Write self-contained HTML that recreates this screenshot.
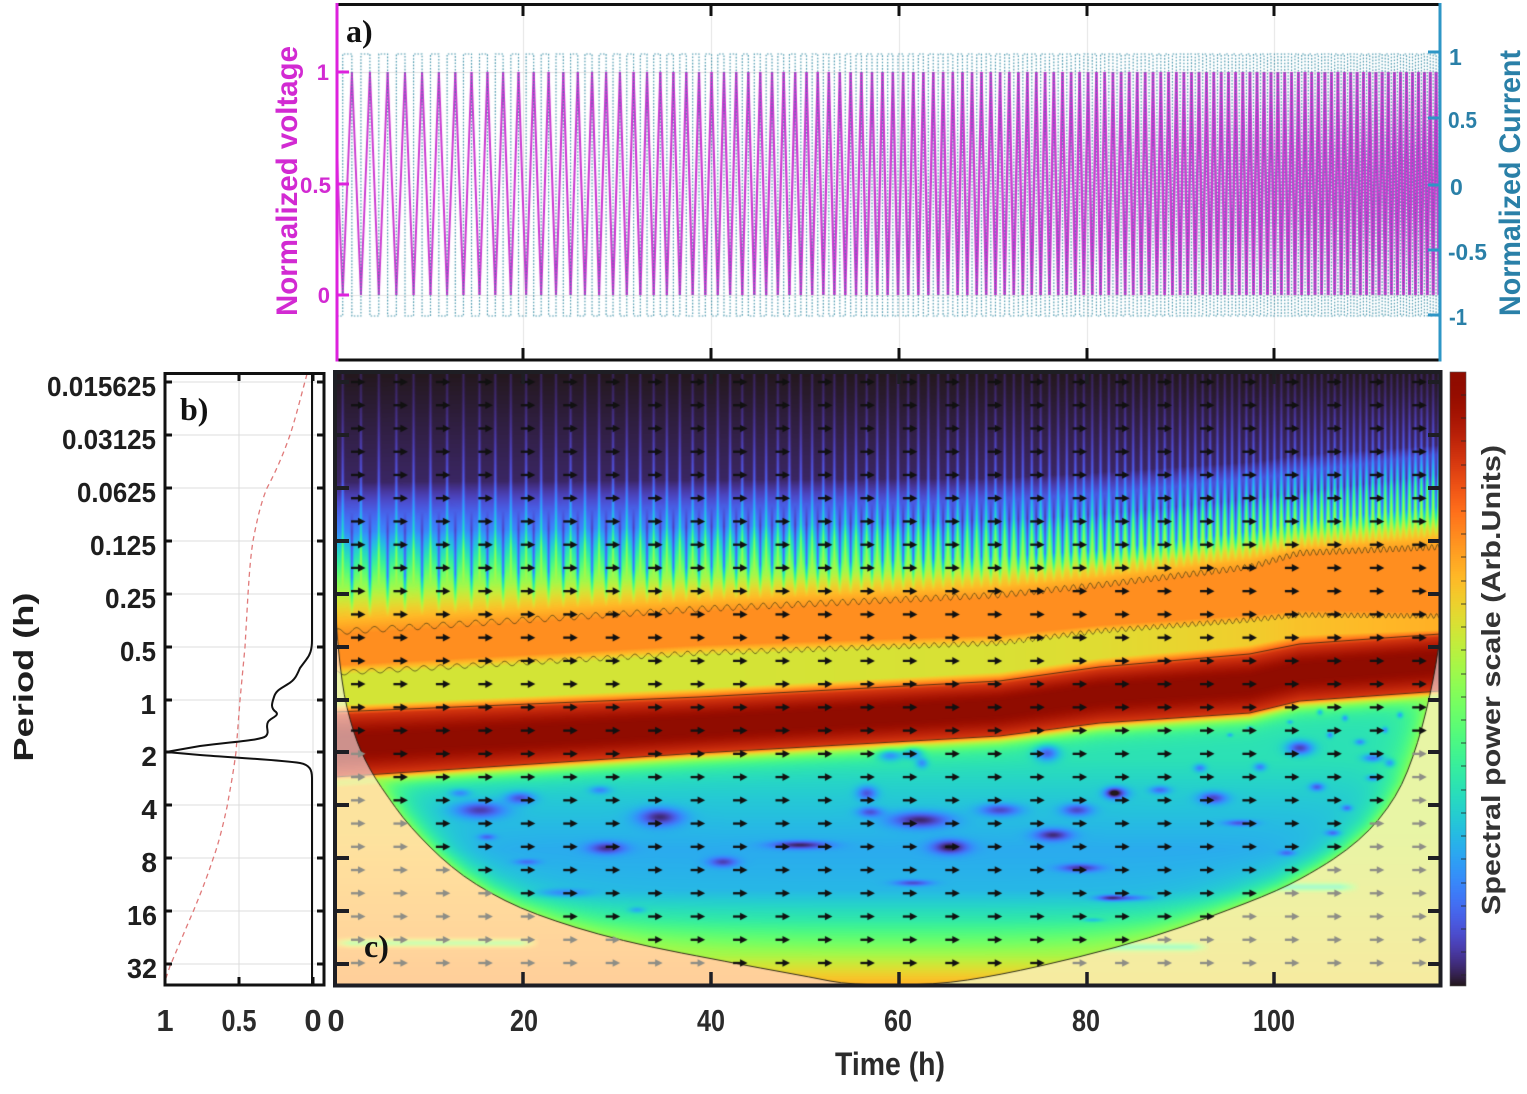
<!DOCTYPE html>
<html><head><meta charset="utf-8">
<style>
html,body{margin:0;padding:0;background:#fff;}
#wrap{position:relative;width:1527px;height:1094px;overflow:hidden;background:#fff;}
canvas{position:absolute;}
svg{position:absolute;left:0;top:0;}
text{font-family:"Liberation Sans",Arial,sans-serif;font-weight:bold;}
text.serif{font-family:"Liberation Serif","Times New Roman",serif;font-weight:bold;}
</style></head><body>
<div id="wrap">
<canvas id="ca" width="1103" height="355" style="left:337px;top:5px"></canvas>
<canvas id="cc" width="1106" height="616" style="left:335px;top:371px"></canvas>
<canvas id="cb" width="16" height="614" style="left:1450px;top:372px"></canvas>
<svg width="1527" height="1094" viewBox="0 0 1527 1094">
<!-- ===== Panel a ===== -->
<g stroke="#111" stroke-width="3" fill="none">
<line x1="336" y1="4.5" x2="1441" y2="4.5"/>
<line x1="336" y1="360" x2="1441" y2="360"/>
<path d="M523,4V16M711,4V16M899,4V16M1087,4V16M1274,4V16"/>
<path d="M523,360V348M711,360V348M899,360V348M1087,360V348M1274,360V348"/>
</g>
<line x1="337" y1="3" x2="337" y2="361.5" stroke="#dd22dd" stroke-width="3"/>
<path d="M337,72H349M337,184H349M337,295H349" stroke="#dd22dd" stroke-width="3"/>
<line x1="1440" y1="3" x2="1440" y2="361.5" stroke="#2e96c6" stroke-width="3"/>
<path d="M1440,52H1428M1440,118H1428M1440,185H1428M1440,250H1428M1440,315H1428" stroke="#2e96c6" stroke-width="3"/>
<g fill="#d22ad2" font-size="22" text-anchor="end">
<text x="329" y="80">1</text>
<text x="331" y="193" textLength="31" lengthAdjust="spacingAndGlyphs">0.5</text>
<text x="330" y="303">0</text>
</g>
<text transform="translate(297,181) rotate(-90)" text-anchor="middle" font-size="30" fill="#d22ad2" textLength="270" lengthAdjust="spacingAndGlyphs">Normalized voltage</text>
<g fill="#2a80a8" font-size="23">
<text x="1449" y="65">1</text>
<text x="1448" y="128" textLength="29" lengthAdjust="spacingAndGlyphs">0.5</text>
<text x="1450" y="195">0</text>
<text x="1448" y="260" textLength="39" lengthAdjust="spacingAndGlyphs">-0.5</text>
<text x="1449" y="325" textLength="18" lengthAdjust="spacingAndGlyphs">-1</text>
</g>
<text transform="translate(1520,183) rotate(-90)" text-anchor="middle" font-size="30" fill="#2a80a8" textLength="266" lengthAdjust="spacingAndGlyphs">Normalized Current</text>
<text class="serif" x="346" y="42" font-size="32" fill="#111">a)</text>

<!-- ===== Panel b ===== -->
<g stroke="#dcdcdc" stroke-width="1">
<path d="M166,382H323M166,435H323M166,488H323M166,541H323M166,594H323M166,647H323M166,700H323M166,752H323M166,805H323M166,858H323M166,911H323M166,964H323"/>
<path d="M239,374V985M313,374V985"/>
</g>
<path d="M307,374 C300,400 295,420 290,435 C282,458 274,475 267,488 C260,505 256,525 253,541 C250,560 249,580 248,594 L245,647 L240,700 L236,752 C233,775 230,790 227,807 C222,830 218,845 213,859 C206,880 200,895 193,912 C185,930 177,950 170,966 L165,981" fill="none" stroke="#e07a7a" stroke-width="1.3" stroke-dasharray="5,4"/>
<path d="M312,374 L312,640 C312,650 310,655 306,660 L300,668 C297,675 295,680 288,684 C282,688 276,690 274,697 C272,703 270,708 276,712 C280,716 270,718 268,722 C265,727 270,732 266,736 C262,740 240,741 200,746 L166,752 L200,755 C240,758 280,760 300,763 C310,765 312,770 312,778 L312,985" fill="none" stroke="#111" stroke-width="2"/>
<rect x="165" y="373.5" width="159" height="611.5" fill="none" stroke="#111" stroke-width="3"/>
<g stroke="#111" stroke-width="3">
<path d="M323,382h-6M323,435h-6M323,488h-6M323,541h-6M323,594h-6M323,647h-6M323,700h-6M323,752h-6M323,805h-6M323,858h-6M323,911h-6M323,964h-6"/>
<path d="M166,382h6M166,435h6M166,488h6M166,541h6M166,594h6M166,647h6M166,700h6M166,752h6M166,805h6M166,858h6M166,911h6M166,964h6"/>
<path d="M239,374v7M313,374v7M239,985v-8M313,985v-8"/>
</g>
<text class="serif" x="180" y="420" font-size="32" fill="#111">b)</text>
<g fill="#1e1e1e" font-size="28" text-anchor="end">
<text x="156" y="396" textLength="109" lengthAdjust="spacingAndGlyphs">0.015625</text>
<text x="156" y="449" textLength="94" lengthAdjust="spacingAndGlyphs">0.03125</text>
<text x="156" y="502" textLength="79" lengthAdjust="spacingAndGlyphs">0.0625</text>
<text x="156" y="555" textLength="66" lengthAdjust="spacingAndGlyphs">0.125</text>
<text x="156" y="608" textLength="51" lengthAdjust="spacingAndGlyphs">0.25</text>
<text x="156" y="661" textLength="36" lengthAdjust="spacingAndGlyphs">0.5</text>
<text x="156" y="714">1</text>
<text x="157" y="766">2</text>
<text x="157" y="819">4</text>
<text x="157" y="872">8</text>
<text x="157" y="925" textLength="30" lengthAdjust="spacingAndGlyphs">16</text>
<text x="157" y="978" textLength="30" lengthAdjust="spacingAndGlyphs">32</text>
</g>
<text transform="translate(33,677) rotate(-90)" text-anchor="middle" font-size="28" fill="#1e1e1e" textLength="169" lengthAdjust="spacingAndGlyphs">Period (h)</text>

<!-- ===== Panel c ===== -->
<rect x="335" y="372" width="1105.5" height="613.5" fill="none" stroke="#1e1e24" stroke-width="4"/>
<g stroke="#1e1e24" stroke-width="4">
<path d="M335,382H349M335,435H349M335,488H349M335,541H349M335,594H349M335,647H349M335,700H349M335,752H349M335,805H349M335,858H349M335,911H349M335,964H349"/>
<path d="M1441,382H1428M1441,435H1428M1441,488H1428M1441,541H1428M1441,594H1428M1441,647H1428M1441,700H1428M1441,752H1428M1441,805H1428M1441,858H1428M1441,911H1428M1441,964H1428"/>
</g>
<g stroke="#1e1e24" stroke-width="3.5">
<path d="M523,985V972M711,985V972M899,985V972M1087,985V972M1274,985V972"/>
<path d="M523,372V384M711,372V384M899,372V384M1087,372V384M1274,372V384"/>
</g>
<text class="serif" x="364" y="957" font-size="32" fill="#111">c)</text>
<g fill="#2b2b2b" font-size="31" text-anchor="middle">
<text x="165" y="1031">1</text>
<text x="239" y="1031" textLength="35" lengthAdjust="spacingAndGlyphs">0.5</text>
<text x="313" y="1031">0</text>
<text x="336" y="1031">0</text>
<text x="524" y="1031" textLength="28" lengthAdjust="spacingAndGlyphs">20</text>
<text x="711" y="1031" textLength="28" lengthAdjust="spacingAndGlyphs">40</text>
<text x="898" y="1031" textLength="28" lengthAdjust="spacingAndGlyphs">60</text>
<text x="1086" y="1031" textLength="28" lengthAdjust="spacingAndGlyphs">80</text>
<text x="1274" y="1031" textLength="42" lengthAdjust="spacingAndGlyphs">100</text>
</g>
<text x="890" y="1075" text-anchor="middle" font-size="32" fill="#2b2b2b" textLength="110" lengthAdjust="spacingAndGlyphs">Time (h)</text>

<!-- ===== Colorbar ===== -->
<rect x="1450" y="372" width="16" height="614" fill="none" stroke="#555" stroke-width="0.6"/>
<g stroke="rgba(40,40,40,0.55)" stroke-width="1.5">
<path d="M1466,395h-5M1466,418h-5M1466,441h-5M1466,465h-5M1466,488h-5M1466,511h-5M1466,534h-5M1466,557h-5M1466,581h-5M1466,604h-5M1466,627h-5M1466,650h-5M1466,674h-5M1466,697h-5M1466,720h-5M1466,743h-5M1466,766h-5M1466,790h-5M1466,813h-5M1466,836h-5M1466,859h-5M1466,883h-5M1466,906h-5M1466,929h-5M1466,952h-5M1466,975h-5"/>
</g>
<text transform="translate(1500,680) rotate(-90)" text-anchor="middle" font-size="26" fill="#333" textLength="470" lengthAdjust="spacingAndGlyphs">Spectral power scale (Arb.Units)</text>
</svg>
</div>
<script>
(function(){
function cl(v){return v<0?0:(v>1?1:v);}
function frac(v){return v-Math.floor(v);}
function ip(xs,ys,x){var n=xs.length;if(x<=xs[0])return ys[0];if(x>=xs[n-1])return ys[n-1];
 for(var i=1;i<n;i++){if(x<=xs[i]){var d=xs[i]-xs[i-1];var t=d>0?(x-xs[i-1])/d:1;return ys[i-1]+t*(ys[i]-ys[i-1]);}}return ys[n-1];}
function turbo(t){t=cl(t);
 var r=0.13572138+t*(4.61539260+t*(-42.66032258+t*(132.13108234+t*(-152.94239396+t*59.28637943))));
 var g=0.09140261+t*(2.19418839+t*(4.84296658+t*(-14.18503333+t*(4.27729857+t*2.82956604))));
 var b=0.10667330+t*(12.64194608+t*(-60.58204836+t*(110.36276771+t*(-89.90310912+t*27.34824973))));
 return [Math.round(cl(r)*255),Math.round(cl(g)*255),Math.round(cl(b)*255)];}
var P0=18.5,P1=5.8,XA=337,XB=1441,OFF=0.69;
var kk=Math.log(P0/P1)/(XB-XA);
function per(x){return P0*Math.exp(-kk*(x-XA));}
function phi(x){return (Math.exp(kk*(x-XA))-1)/(kk*P0);}

/* ---------- Panel a ---------- */
var A=document.getElementById('ca').getContext('2d');
var ax=337,ay=5;
A.strokeStyle='#e3e3e3';A.lineWidth=1;
[523,711,899,1087,1274].forEach(function(x){A.beginPath();A.moveTo(x-ax+0.5,0);A.lineTo(x-ax+0.5,355);A.stroke();});
[72,295].forEach(function(y){A.beginPath();A.moveTo(0,y-ay+0.5);A.lineTo(1103,y-ay+0.5);A.stroke();});
var psiEnd=phi(XB)+OFF, tp=[];
for(var n=Math.ceil(OFF*2);n/2<=psiEnd;n++){var ps=n/2;var x=XA+Math.log(1+kk*P0*(ps-OFF))/kk;tp.push([x,n%2===0?0:1]);}
function vy(v){return 295-v*223-ay;}
function cyy(c){return 185-c*131-ay;}
A.strokeStyle='rgba(200,45,205,0.95)';
var px=0,py=vy(1-Math.abs(2*frac(OFF)-1));
tp.forEach(function(q){var nx=q[0]-ax,ny=vy(q[1]);A.lineWidth=1.9+0.8*(nx/1103);A.beginPath();A.moveTo(px,py);A.lineTo(nx,ny);A.stroke();px=nx;py=ny;});
var ve=1-Math.abs(2*frac(psiEnd)-1);A.beginPath();A.moveTo(px,py);A.lineTo(XB-ax,vy(ve));A.stroke();
A.setLineDash([1.6,1.6]);A.strokeStyle='rgba(45,135,160,0.85)';A.lineWidth=1.2;
A.beginPath();var cur=-1;A.moveTo(0,cyy(cur));
tp.forEach(function(q){A.lineTo(q[0]-ax,cyy(cur));cur=(q[1]===0)?1:-1;A.lineTo(q[0]-ax,cyy(cur));});
A.lineTo(XB-ax,cyy(cur));A.stroke();
A.setLineDash([]);

/* ---------- Panel c ---------- */
var W=1106,H=616,X0=335,Y0=371;
var C=document.getElementById('cc').getContext('2d');
var img=C.createImageData(W,H),Dd=img.data;
var LUT=[];for(var q=0;q<=1000;q++)LUT.push(turbo(q/1000));
var KX=[335,700,1000,1100,1250,1300,1441];
var KA=[482,480,478,472,462,455,445],KB=[532,527,520,514,499,492,474],KC=[578,567,556,550,531,521,506],
KD=[610,592,578,568,550,540,528],KEe=[635,612,598,588,570,556,550],KF=[665,645,635,625,615,610,612],
KF2=[675,655,645,633,622,617,618],
KGg=[705,688,672,658,645,635,630],KHh=[715,700,684,670,657,647,637],KI=[745,726,708,694,684,672,662],
KJj=[776,752,735,722,712,700,690],GV=[0.58,0.58,0.59,0.6,0.63,0.65,0.68];
var VBY=[760,800,850,890,920,945,962,975,990],VBV=[0.32,0.27,0.22,0.24,0.34,0.46,0.56,0.63,0.7];
var CX=[335,337,340,344,350,357,365,375,388,403,420,440,463,490,520,555,597,650,713,760,810,850,935,1000,1080,1150,1210,1280,1320,1347,1370,1388,1402,1413,1422,1430,1436,1441];
var CY=[600,635,665,695,720,742,760,778,797,818,837,857,876,893,908,921,934,947,959,968,977,985,985,975,957,938,917,890,868,850,830,808,785,757,728,695,665,630];
var BL=[[480,810,25,8,.2],[520,798,14,6,.18],[460,793,10,4,.12],[487,837,8,3,.12],[660,817,22,9,.22],[607,848,18,6,.18],[723,862,14,5,.16],[527,862,12,3,.1],[563,893,25,4,.1],[637,910,8,3,.1],[600,790,10,4,.12],
[800,845,28,4,.2],[867,793,10,7,.18],[890,755,12,6,.2],[913,753,10,6,.2],[922,763,6,5,.15],[870,812,12,5,.16],[920,820,30,8,.22],[950,847,18,7,.22],[1000,810,20,6,.18],[1047,753,12,8,.22],[1053,835,18,6,.2],[1077,810,15,6,.18],[1080,868,20,4,.18],[913,883,18,3,.15],[1113,793,8,5,.15],[1110,898,12,3,.12],[1093,920,10,2,.1],
[1300,748,13,7,.25],[1260,767,6,4,.15],[1200,768,6,4,.15],[1160,790,10,4,.15],[1117,793,12,6,.18],[1213,798,14,6,.2],[1240,823,15,3,.15],[1317,787,7,4,.18],[1373,758,10,4,.18],[1390,763,5,4,.15],[1373,778,6,3,.15],[1347,808,5,3,.15],[1333,833,7,3,.15],[1287,853,8,3,.12],[1123,898,25,3,.15],[1360,742,5,3,.15],
[1320,712,3,3,.15],[1345,718,3,3,.15],[1400,715,3,3,.15],[1330,735,3,3,.15],[1385,730,3,3,.15],[1250,728,3,2,.12],[1230,735,3,2,.12],[1290,722,3,2,.12]];
var STR=[[350,520,943],[1270,1340,887],[1100,1190,947]];
function distC(X,Y){var best=1e9;for(var s=0;s<CX.length-1;s++){var x1=CX[s],y1=CY[s],x2=CX[s+1],y2=CY[s+1];
 var dx=x2-x1,dy=y2-y1,L=dx*dx+dy*dy,t=L>0?((X-x1)*dx+(Y-y1)*dy)/L:0;t=t<0?0:(t>1?1:t);
 var ex=x1+t*dx-X,ey=y1+t*dy-Y,d=ex*ex+ey*ey;if(d<best)best=d;}return Math.sqrt(best);}
var KE=new Float32Array(W),KFF=new Float32Array(W),KH=new Float32Array(W),KJ=new Float32Array(W);
for(var i=0;i<W;i++){
 var X=X0+i+0.5;
 var a=ip(KX,KA,X),b=ip(KX,KB,X),c=ip(KX,KC,X),d=ip(KX,KD,X),e=ip(KX,KEe,X),f=ip(KX,KF,X),f2=ip(KX,KF2,X),g=ip(KX,KGg,X),h=ip(KX,KHh,X),m=ip(KX,KI,X),j=ip(KX,KJj,X),gv=ip(KX,GV,X);
 KE[i]=e;KFF[i]=f2;KH[i]=h;KJ[i]=j;
 var yc=ip(CX,CY,X);
 var p=per(X),fr=frac(phi(X)+OFF);
 var dI=(0.5-Math.abs(fr-0.5))*p,dH=Math.abs(fr-0.5)*p;
 var light=Math.exp(-dI*dI/1.6),dark=Math.exp(-dH*dH/2.5);
 var ys=[371,a,b,c,d,e,f,f2,g,h,m-6,m+6,j],vs=[0.0,0.025,0.17,0.45,0.62,0.73,0.73,gv,gv,0.86,0.99,0.99,0.86];
 var bl=BL.filter(function(B){return Math.abs(X-B[0])<B[2]*3;});
 for(var jj=0;jj<H;jj++){
  var Y=Y0+jj+0.5,v;
  if(Y<=j){
   v=ip(ys,vs,Y);
   if(Y<c+10){var rel=Math.max(0,(Y-371)/(c-371));var amp=0.02+0.2*rel*rel;var w1=Y<c-25?1:Math.max(0,(c+10-Y)/35);v+=amp*light*w1;}
   if(Y>b-20&&Y<d+10){var w2=Y<c?(Y-b+20)/(c-b+20):Math.max(0,1-(Y-c)/(d+10-c));v-=0.3*dark*w2;}
  } else {
   var vb=ip(VBY,VBV,Y);
   var vin=vb+(0.86-vb)*Math.exp(-(Y-j)/7);
   if(Y>yc){
    var vo=X<890?0.65+0.07*cl((Y-830)/150):0.57+0.05*cl((Y-830)/150);
    for(var s=0;s<STR.length;s++){var S=STR[s];if(X>S[0]-20&&X<S[1]+20){var ww=Math.min(1,(X-S[0]+20)/20,(S[1]+20-X)/20);vo-=0.2*ww*Math.exp(-Math.pow((Y-S[2])/4,2));}}
    var tt=cl((Y-j)/12);v=vin*(1-tt)+vo*tt;
   } else {
    v=vin;
    if(Y>j+5&&v<0.52){var dist=distC(X,Y);v+=(0.52-v)*0.85*Math.exp(-dist/13);}
    if(Y>j+3){for(var k=0;k<bl.length;k++){var B=bl[k];var ddx=(X-B[0])/B[2],ddy=(Y-B[1])/B[3];var r=ddx*ddx+ddy*ddy;if(r<9)v-=B[4]*Math.exp(-r);}}
   }
  }
  var col=LUT[Math.round(cl(v)*1000)];
  var o=(jj*W+i)*4;Dd[o]=col[0];Dd[o+1]=col[1];Dd[o+2]=col[2];Dd[o+3]=255;
 }
}
C.putImageData(img,0,0);
C.lineWidth=1;C.strokeStyle='rgba(50,40,15,0.8)';
function pathY(fn){C.beginPath();for(var i=0;i<W;i++){var y=fn(i);if(i)C.lineTo(i,y);else C.moveTo(i,y);}C.stroke();}
pathY(function(i){return KH[i]-Y0-3;});
pathY(function(i){return KJ[i]-Y0+1;});
C.strokeStyle='rgba(70,60,20,0.7)';
pathY(function(i){return KE[i]-Y0-3+3*Math.sin(2*Math.PI*(phi(X0+i)+OFF));});
pathY(function(i){return KFF[i]-Y0-2+2.5*Math.sin(2*Math.PI*(phi(X0+i)+OFF)+1);});
function coiPath(){C.moveTo(CX[0]-X0,CY[0]-Y0);
 for(var s=1;s<CX.length-1;s++){var mx=(CX[s]+CX[s+1])/2,my=(CY[s]+CY[s+1])/2;C.quadraticCurveTo(CX[s]-X0,CY[s]-Y0,mx-X0,my-Y0);}
 C.lineTo(CX[CX.length-1]-X0,CY[CY.length-1]-Y0);}
C.beginPath();coiPath();C.lineTo(1450-X0,630-Y0);C.lineTo(1450-X0,1000-Y0);C.lineTo(325-X0,1000-Y0);C.lineTo(325-X0,600-Y0);C.closePath();
C.fillStyle='rgba(255,255,255,0.55)';C.fill();
C.beginPath();coiPath();C.strokeStyle='rgba(25,25,15,0.9)';C.lineWidth=1;C.stroke();
for(var ai=0;ai<26;ai++)for(var bi=0;bi<26;bi++){
 var cx=358+42.45*ai,cy=382+23.24*bi;
 var inside=cy<ip(CX,CY,cx);
 C.fillStyle=C.strokeStyle=inside?'#111':'#8e8e86';
 var x=cx-X0,y=cy-Y0;
 C.lineWidth=2.3;C.beginPath();C.moveTo(x-7,y);C.lineTo(x+1,y);C.stroke();
 C.beginPath();C.moveTo(x+7.5,y);C.lineTo(x,y-3.8);C.lineTo(x,y+3.8);C.closePath();C.fill();
}
var CB=document.getElementById('cb').getContext('2d');
for(var rr=0;rr<614;rr++){var cc=turbo(1-rr/613);CB.fillStyle='rgb('+cc[0]+','+cc[1]+','+cc[2]+')';CB.fillRect(0,rr,16,1);}
})();
</script>
</body></html>
